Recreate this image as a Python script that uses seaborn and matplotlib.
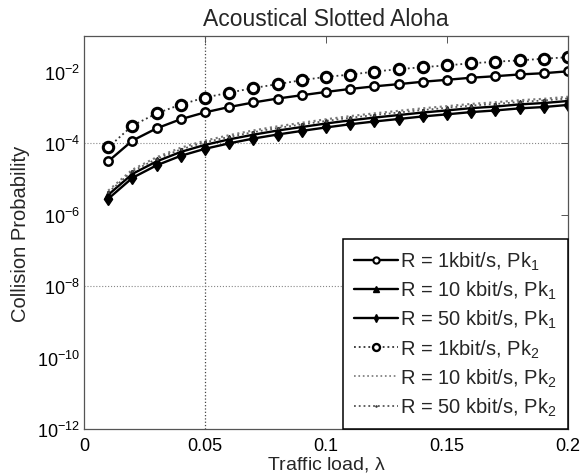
import numpy as np
import pandas as pd
import matplotlib
matplotlib.use("Agg")
import matplotlib.pyplot as plt
import seaborn as sns

traffic_load = [0.01, 0.02, 0.03, 0.04, 0.05, 0.06, 0.07, 0.08, 0.09, 0.10,
                0.11, 0.12, 0.13, 0.14, 0.15, 0.16, 0.17, 0.18, 0.19, 0.20]

pk1_1k = [3.1e-5, 1.18e-4, 2.6e-4, 4.7e-4, 7.3e-4, 1.03e-3, 1.38e-3, 1.78e-3, 2.2e-3, 2.72e-3,
          3.3e-3, 3.9e-3, 4.5e-3, 5.25e-3, 5.95e-3, 6.8e-3, 7.5e-3, 8.4e-3, 9.1e-3, 1.03e-2]
pk1_10k = [3.57e-6, 1.38e-5, 3.09e-5, 5.7e-5, 8.97e-5, 1.28e-4, 1.73e-4, 2.26e-4, 2.84e-4, 3.56e-4,
           4.36e-4, 5.21e-4, 6.13e-4, 7.22e-4, 8.28e-4, 9.58e-4, 1.06e-3, 1.22e-3, 1.33e-3, 1.52e-3]
pk1_50k = [2.77e-6, 1.07e-5, 2.4e-5, 4.43e-5, 6.96e-5, 9.91e-5, 1.35e-4, 1.75e-4, 2.21e-4, 2.76e-4,
           3.39e-4, 4.05e-4, 4.76e-4, 5.61e-4, 6.43e-4, 7.43e-4, 8.26e-4, 9.44e-4, 1.03e-3, 1.18e-3]
pk2_1k = [7.6e-5, 3.1e-4, 6.8e-4, 1.21e-3, 1.89e-3, 2.6e-3, 3.5e-3, 4.5e-3, 5.8e-3, 7.2e-3,
          8.3e-3, 1.01e-2, 1.18e-2, 1.34e-2, 1.51e-2, 1.72e-2, 1.91e-2, 2.08e-2, 2.32e-2, 2.55e-2]
pk2_10k = [4.7e-6, 1.82e-5, 4.06e-5, 7.5e-5, 1.18e-4, 1.68e-4, 2.28e-4, 2.97e-4, 3.74e-4, 4.68e-4,
           5.74e-4, 6.86e-4, 8.06e-4, 9.5e-4, 1.09e-3, 1.26e-3, 1.40e-3, 1.60e-3, 1.75e-3, 2.0e-3]
pk2_50k = [4.2e-6, 1.63e-5, 3.63e-5, 6.7e-5, 1.06e-4, 1.50e-4, 2.04e-4, 2.66e-4, 3.35e-4, 4.19e-4,
           5.14e-4, 6.14e-4, 7.21e-4, 8.5e-4, 9.76e-4, 1.13e-3, 1.25e-3, 1.43e-3, 1.57e-3, 1.79e-3]

labels = [r"R = 1kbit/s, Pk$_1$", r"R = 10 kbit/s, Pk$_1$", r"R = 50 kbit/s, Pk$_1$",
          r"R = 1kbit/s, Pk$_2$", r"R = 10 kbit/s, Pk$_2$", r"R = 50 kbit/s, Pk$_2$"]
x_ticks = [0, 0.05, 0.1, 0.15, 0.2]
x_tick_labels = ["0", "0.05", "0.1", "0.15", "0.2"]
y_ticks = [1e-12, 1e-10, 1e-8, 1e-6, 1e-4, 1e-2]

sns.set_style("white")
plt.rcParams['font.family'] = ['Liberation Sans', 'DejaVu Sans']
plt.rcParams['mathtext.fontset'] = 'custom'
plt.rcParams['mathtext.rm'] = 'Liberation Sans'
plt.rcParams['mathtext.it'] = 'Liberation Sans:italic'
plt.rcParams['mathtext.default'] = 'regular'

fig = plt.figure(figsize=(5.84, 4.77), dpi=100)
ax = fig.add_axes([0.1438, 0.0985, 0.8288, 0.8239])

series = [pk1_1k, pk1_10k, pk1_50k, pk2_1k, pk2_10k, pk2_50k]
styles = [
    dict(linestyle='-', marker='o', linewidth=1.7, markersize=6, markerfacecolor='white',
         markeredgecolor='black', markeredgewidth=1.8, color='black'),
    dict(linestyle='-', marker='^', linewidth=1.7, markersize=5.5, markerfacecolor='black',
         markeredgecolor='black', markeredgewidth=1.0, color='black'),
    dict(linestyle='-', marker='d', linewidth=1.7, markersize=6, markerfacecolor='black',
         markeredgecolor='black', markeredgewidth=1.0, color='black'),
    dict(linestyle=':', marker='o', linewidth=1.3, markersize=7.5, markerfacecolor='white',
         markeredgecolor='black', markeredgewidth=2.2, color='#333333'),
    dict(linestyle=':', marker='', linewidth=1.5, color='#777777'),
    dict(linestyle=':', marker='.', linewidth=1.3, markersize=3, markeredgecolor='#333333',
         color='#555555'),
]

for vals, lab, st in zip(series, labels, styles):
    df = pd.DataFrame({"x": traffic_load, "y": vals})
    sns.lineplot(data=df, x="x", y="y", ax=ax, label=lab, **st)

ax.set_yscale('log')
ax.set_xlim(0, 0.2)
ax.set_ylim(1e-12, 1e-1)
ax.set_xticks(x_ticks)
ax.set_xticklabels(x_tick_labels)
ax.set_yticks(y_ticks)
ax.yaxis.set_minor_locator(matplotlib.ticker.NullLocator())
ax.tick_params(direction='in', top=True, right=True, length=5, width=0.7,
               labelsize=13, colors='#555555', labelcolor='black')
ax.tick_params(axis='x', pad=6)
ax.tick_params(axis='y', pad=3)

ax.axvline(0.05, color='#444444', linestyle=':', linewidth=0.9, zorder=0)
ax.axhline(1e-4, color='#888888', linestyle=':', linewidth=0.8, zorder=0)
ax.axhline(1e-8, color='#888888', linestyle=':', linewidth=0.8, zorder=0)

for s in ax.spines.values():
    s.set_color('#555555')
    s.set_linewidth(0.9)

ax.set_xlabel(r"Traffic load, $\lambda$", fontsize=14, labelpad=0)
ax.set_ylabel("Collision Probability", fontsize=14.5, labelpad=5)
ax.set_title("Acoustical Slotted Aloha", fontsize=16.5, pad=8)

leg = ax.legend(loc='lower right', bbox_to_anchor=(1.0, 0.0), borderaxespad=0.0,
                fontsize=14.5, frameon=True, fancybox=False, handlelength=2.2,
                handletextpad=0.12, labelspacing=0.34, borderpad=0.55, markerscale=0.7)
leg.get_frame().set_edgecolor('black')
leg.get_frame().set_linewidth(1.1)
leg.get_frame().set_alpha(1)
handles = leg.legend_handles
handles[0].set_markersize(4.5)
handles[0].set_markeredgewidth(1.5)
handles[3].set_markersize(5)
handles[3].set_markeredgewidth(1.7)
handles[4].set_linewidth(1.2)

fig.savefig("out.png", dpi=100)
